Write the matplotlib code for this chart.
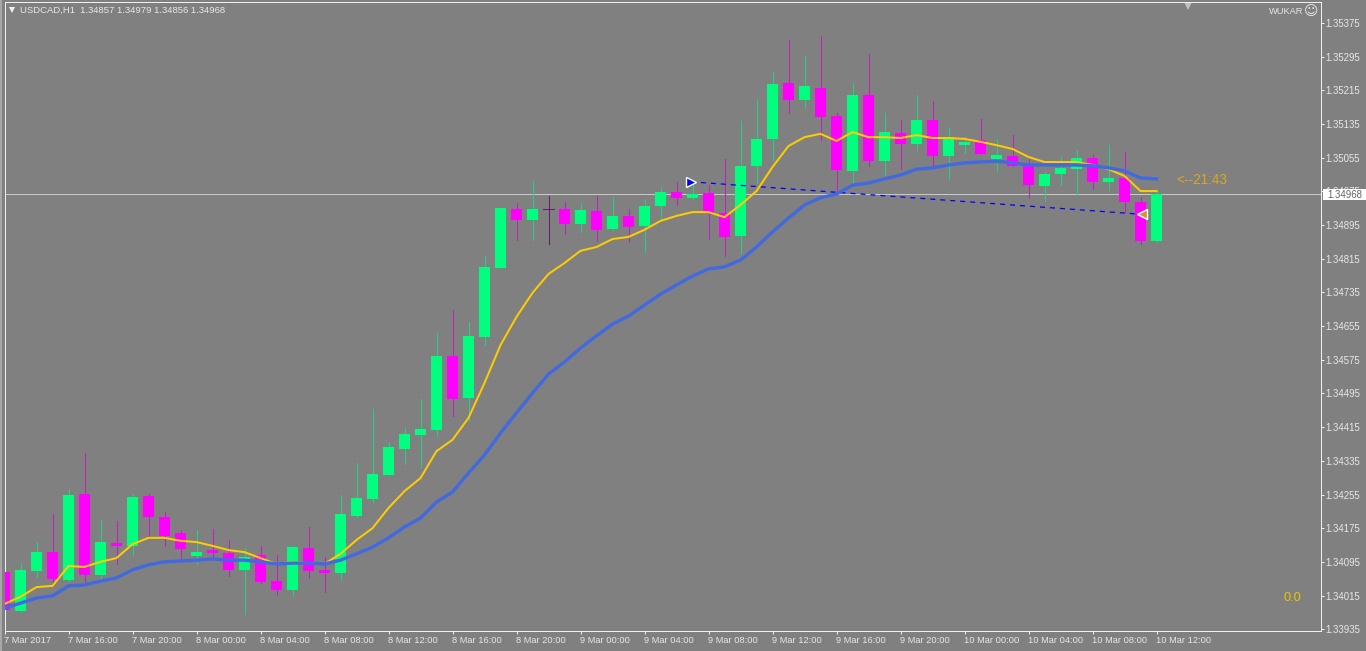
import matplotlib
matplotlib.use("Agg")
import matplotlib.pyplot as plt
from matplotlib.patches import Rectangle

W, H = 1366, 651
BG = "#808080"
AXC = "#f0f0f0"
TXT = "#e8e8e8"
plt.rcParams["font.family"] = ["Liberation Sans", "DejaVu Sans"]

SYMBOL = "USDCAD,H1"
PT = 1e5
opens = [134071,133978,134073,134118,134052,134256,134064,134140,134133,134251,134202,134164,134109,134123,134116,134076,134111,134049,134028,134128,134076,134069,134204,134244,134301,134363,134396,134408,134584,134484,134629,134793,134933,134907,134933,134933,134898,134929,134886,134917,134893,134941,134974,134960,134971,134924,134869,135036,135100,135233,135192,135221,135154,135024,135204,135047,135114,135088,135145,135059,135085,135097,135052,135059,135036,134988,135017,135028,135055,134998,135007,134950,134857]
highs = [134097,134092,134142,134209,134268,134354,134194,134192,134256,134256,134213,134171,134171,134173,134147,134128,134133,134111,134133,134178,134107,134254,134330,134458,134377,134413,134482,134639,134693,134665,134822,134936,134948,135000,134964,134950,134948,134964,134962,134933,134957,134986,134998,134993,134990,135052,135142,135195,135259,135335,135297,135344,135162,135233,135302,135162,135145,135204,135190,135126,135104,135147,135100,135109,135052,135021,135057,135074,135062,135085,135069,134962,134979]
lows = [133973,133978,134059,134040,134049,134045,134054,134090,134111,134154,134133,134099,134090,134099,134061,133971,134045,134016,134014,134057,134023,134052,134202,134237,134301,134327,134320,134394,134442,134432,134610,134793,134860,134860,134850,134874,134879,134857,134884,134855,134831,134907,134943,134957,134862,134822,134829,134995,135050,135162,135173,135097,134971,134993,135036,135014,135028,135074,135033,135005,135066,135064,135024,135036,134960,134952,134990,134967,134981,134979,134926,134850,134856]
closes = [133981,134076,134118,134054,134254,134064,134142,134133,134249,134202,134156,134126,134118,134116,134076,134107,134047,134028,134130,134073,134069,134209,134247,134304,134368,134399,134411,134584,134482,134632,134796,134936,134907,134933,134933,134898,134931,134884,134917,134891,134941,134974,134960,134969,134924,134867,135036,135100,135230,135192,135226,135152,135026,135204,135047,135116,135088,135145,135059,135104,135093,135064,135062,135036,134990,135017,135031,135055,134998,135007,134950,134857,134968]
ma_fast = [133995,134012,134035,134038,134085,134083,134095,134104,134137,134152,134152,134145,134142,134133,134123,134118,134104,134090,134095,134092,134090,134114,134147,134175,134223,134263,134294,134358,134385,134437,134520,134610,134677,134734,134779,134805,134834,134843,134862,134867,134884,134905,134917,134926,134926,134914,134943,134976,135033,135083,135104,135112,135095,135116,135104,135104,135102,135109,135102,135102,135100,135093,135085,135076,135057,135045,135045,135045,135038,135028,135012,134976,134976]
ma_slow = [133985,133997,134009,134014,134038,134040,134049,134057,134076,134088,134095,134097,134099,134102,134099,134099,134095,134090,134092,134092,134090,134099,134114,134130,134152,134178,134199,134237,134261,134306,134349,134401,134449,134496,134541,134570,134603,134632,134660,134679,134705,134731,134753,134774,134791,134796,134812,134843,134879,134912,134943,134960,134969,134990,134995,135005,135014,135028,135031,135038,135043,135045,135047,135043,135038,135038,135038,135038,135036,135031,135024,135007,135005]
trade_bars = [42.9, 71.0]
trade_prices = [134998, 134921]
price_ticks = [1.35375,1.35295,1.35215,1.35135,1.35055,1.34975,1.34895,1.34815,1.34735,1.34655,1.34575,1.34495,1.34415,1.34335,1.34255,1.34175,1.34095,1.34015,1.33935]
time_ticks = list(range(0, 73, 4))
time_labels = ["7 Mar 2017","7 Mar 16:00","7 Mar 20:00","8 Mar 00:00","8 Mar 04:00","8 Mar 08:00","8 Mar 12:00","8 Mar 16:00","8 Mar 20:00","9 Mar 00:00","9 Mar 04:00","9 Mar 08:00","9 Mar 12:00","9 Mar 16:00","9 Mar 20:00","10 Mar 00:00","10 Mar 04:00","10 Mar 08:00","10 Mar 12:00"]

UP, DOWN, DOJI = "#00ff7f", "#ff00ff", "#6a1a6a"
UP_W, DOWN_W = "#25d083", "#c020c0"

fig = plt.figure(figsize=(W/100, H/100), dpi=100, facecolor=BG)
ax = fig.add_axes([4.5/W, 1-631/H, 1316/W, 629/H], facecolor=BG)
ax.set_xlim(0, 82.25)
ax.set_ylim(1.339307, 1.354252)

n = len(closes)
xs = list(range(n))
wick_c = [UP_W if c > o else DOWN_W if c < o else DOJI for o, c in zip(opens, closes)]
ax.axhline(closes[-1]/PT, color="#c8c8c8", lw=0.72, zorder=1, antialiased=False)
ax.vlines(xs, [v/PT for v in lows], [v/PT for v in highs], colors=wick_c, lw=0.72, zorder=2, antialiased=False)
for i in xs:
    o, c = opens[i]/PT, closes[i]/PT
    if closes[i] == opens[i]:
        ax.hlines(o, i-0.34, i+0.34, colors=DOJI, lw=0.72, zorder=3, antialiased=False)
    else:
        ax.bar(i, abs(c-o), bottom=min(o, c), width=0.69, color=UP if c > o else DOWN, lw=0, zorder=3, antialiased=False)

ax.plot(trade_bars, [v/PT for v in trade_prices], color="#0000ff", lw=0.9, ls=(0, (4, 4)), zorder=4)
ax.plot(xs, [v/PT for v in ma_fast], color="#ffcc00", lw=1.45, zorder=5, solid_joinstyle="round")
ax.plot(xs, [v/PT for v in ma_slow], color="#4169e1", lw=2.4, zorder=6, solid_joinstyle="round")
ax.plot(trade_bars[0], trade_prices[0]/PT, marker=">", ms=7, mfc="#0000ff", mec="white", mew=1, zorder=7)
ax.plot(trade_bars[1]+0.1, trade_prices[1]/PT, marker="<", ms=7, mfc="#c89838", mec="white", mew=1, zorder=7)

for s in ax.spines.values():
    s.set_color(AXC)
    s.set_linewidth(0.72)
ax.yaxis.tick_right()
ax.set_yticks(price_ticks, [f"{v:.5f}" for v in price_ticks])
ax.set_xticks(time_ticks, time_labels, ha="left")
ax.tick_params(axis="y", colors=AXC, length=2.2, width=0.72, pad=1.5, labelsize=6.9, labelcolor=TXT)
ax.tick_params(axis="x", colors=AXC, length=2.2, width=0.72, pad=1.5, labelsize=6.7, labelcolor=TXT)

fig.add_artist(Rectangle((1323/W, 1-200/H), 43/W, 11/H, transform=fig.transFigure, fc="white", ec="none", zorder=20))
fig.text(1327/W, 1-194.5/H, f"{closes[-1]/PT:.5f}", fontsize=6.9, color="#606060", va="center", ha="left", zorder=21)

header = f"{SYMBOL}  " + " ".join(f"{v/PT:.5f}" for v in (opens[-1], highs[-1], lows[-1], closes[-1]))
fig.text(20/W, 1-10/H, header, fontsize=6.8, color=TXT, va="center", ha="left")
ax.plot([12/W], [1-10/H], marker="v", ms=5, color="#f0f0f0", mew=0, transform=fig.transFigure, clip_on=False)
ax.plot([1188/W], [1-5.5/H], marker="v", ms=6, color="#c0c0c0", mew=0, transform=fig.transFigure, clip_on=False)
fig.text(1269/W, 1-11/H, "WUKAR", fontsize=6.7, color=TXT, va="center", ha="left")
fig.text(1311/W, 1-11.5/H, "\u263a", fontsize=10, family="DejaVu Sans", color=TXT, va="center", ha="center")
fig.text(1176/W, 1-180/H, "<--21:43", fontsize=9.8, color="#d8a820", va="center", ha="left")
fig.text(1284/W, 1-598/H, "0.0", fontsize=9.2, color="#e6c800", va="center", ha="left")

fig.add_artist(Rectangle((0, 0), 2/W, 1, transform=fig.transFigure, fc="#a8a8a8", ec="none"))
fig.savefig("out.png", dpi=100, facecolor=BG)
